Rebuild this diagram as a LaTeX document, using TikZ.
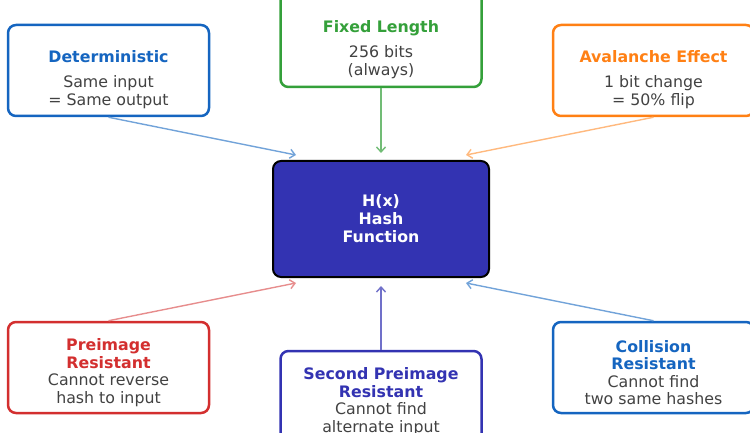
\documentclass[tikz,border=0pt]{standalone}
\usepackage{fontspec}
\setmainfont{DejaVu Sans}
\usepackage{tikz}
\usetikzlibrary{arrows.meta}
\definecolor{detblue}{RGB}{21,101,192}
\definecolor{fixgreen}{RGB}{52,160,58}
\definecolor{avaorange}{RGB}{255,128,20}
\definecolor{prered}{RGB}{211,47,47}
\definecolor{secindigo}{RGB}{51,51,178}
\definecolor{bodygray}{RGB}{66,66,66}
\tikzstyle{prop} = [rectangle, rounded corners=8pt, minimum width=201pt, minimum height=91pt, line width=2.5pt, fill=white]
\tikzstyle{hashbox} = [rectangle, rounded corners=8pt, minimum width=216pt, minimum height=116pt, line width=2pt, draw=black, fill=secindigo, text=white, align=center, font=\bfseries\fontsize{15.8}{18}\selectfont]
\tikzstyle{proptext} = [align=center, text=bodygray, font=\fontsize{15.8}{17.5}\selectfont]
\tikzstyle{arrow} = [line width=1.4pt, -{Straight Barb[length=5pt,width=9pt]}]

\begin{document}
\begin{tikzpicture}[node distance=148.5pt]
\clip (0,0) rectangle (750pt,-433pt);
\node (hash) [hashbox] at (381pt,-219pt) {H(x)\\Hash\\Function};
\node (det) [prop, draw=detblue, above of=hash, xshift=-272.5pt] {};
\node (fixed) [prop, draw=fixgreen, minimum height=99pt, above of=hash, yshift=33pt] {};
\node (ava) [prop, draw=avaorange, above of=hash, xshift=272.5pt] {};
\node (pre) [prop, draw=prered, below of=hash, xshift=-272.5pt] {};
\node (second) [prop, draw=secindigo, below of=hash, yshift=-29pt] {};
\node (col) [prop, draw=detblue, below of=hash, xshift=272.5pt] {};

% texts of the boxes
\node (dettext) [proptext] at ([yshift=-9pt]det.center) {\textcolor{detblue}{\bfseries Deterministic}\\[7.5pt] Same input\\= Same output};
\node (fixedtext) [proptext] at ([yshift=-12pt]fixed.center) {\textcolor{fixgreen}{\bfseries Fixed Length}\\[7.5pt] 256 bits\\(always)};
\node (avatext) [proptext] at ([yshift=-9pt]ava.center) {\textcolor{avaorange}{\bfseries Avalanche Effect}\\[7.5pt] 1 bit change\\= 50\% flip};
\node (pretext) [proptext] at ([yshift=-5pt]pre.center) {\textcolor{prered}{\bfseries Preimage}\\\textcolor{prered}{\bfseries Resistant}\\Cannot reverse\\hash to input};
\node (secondtext) [proptext] at ([yshift=-5pt]second.center) {\textcolor{secindigo}{\bfseries Second Preimage}\\\textcolor{secindigo}{\bfseries Resistant}\\Cannot find\\alternate input};
\node (coltext) [proptext] at ([yshift=-5pt]col.center) {\textcolor{detblue}{\bfseries Collision}\\\textcolor{detblue}{\bfseries Resistant}\\Cannot find\\two same hashes};

\draw [arrow, detblue!60] (det.south) -- ([xshift=24pt,yshift=5pt]hash.north west);
\draw [arrow, fixgreen!70] (fixed.south) -- ([yshift=7pt]hash.north);
\draw [arrow, avaorange!55] (ava.south) -- ([xshift=-24pt,yshift=5pt]hash.north east);
\draw [arrow, prered!55] (pre.north) -- ([xshift=24pt,yshift=-5pt]hash.south west);
\draw [arrow, secindigo!70] (second.north) -- ([yshift=-8pt]hash.south);
\draw [arrow, detblue!60] (col.north) -- ([xshift=-24pt,yshift=-5pt]hash.south east);
\end{tikzpicture}
\end{document}
